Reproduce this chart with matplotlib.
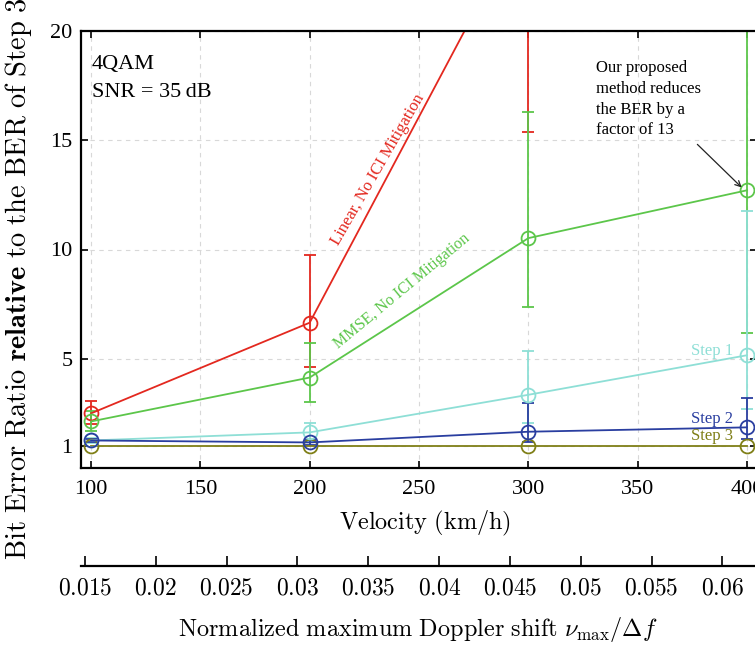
import numpy as np
import matplotlib
matplotlib.use('Agg')
import matplotlib.pyplot as plt

plt.rcParams['font.family'] = ['Liberation Serif', 'DejaVu Serif']
plt.rcParams['mathtext.fontset'] = 'cm'

# velocity grid (km/h)
velocity = [100, 200, 300, 400]

# BER relative to step 3: value, lower and upper end of the error bar
linear_val = [2.5, 6.65, 25.5, 45.0]
linear_lo = [2.0, 4.63, 15.4, 30.0]
linear_hi = [3.06, 9.73, 35.6, 60.0]

mmse_val = [2.13, 4.14, 10.52, 12.71]
mmse_lo = [1.70, 3.03, 7.37, 6.17]
mmse_hi = [2.6, 5.70, 16.28, 25.0]

step1_val = [1.26, 1.63, 3.35, 5.16]
step1_lo = [1.15, 1.2, 2.04, 2.72]
step1_hi = [1.37, 2.05, 5.36, 11.75]

step2_val = [1.26, 1.17, 1.66, 1.86]
step2_lo = [1.2, 1.07, 1.19, 1.32]
step2_hi = [1.32, 1.27, 2.97, 3.2]

step3_val = [1.0, 1.0, 1.0, 1.0]

y_ticks = [1, 5, 10, 15, 20]
doppler_ticks = [0.015, 0.02, 0.025, 0.03, 0.035, 0.04, 0.045, 0.05, 0.055, 0.06]
doppler_labels = ['0.015', '0.02', '0.025', '0.03', '0.035', '0.04', '0.045', '0.05', '0.055', '0.06']

# carrier 2.5 GHz, subcarrier spacing 15 kHz
fc = 2.5e9
df = 15e3
def v2nu(v):
    return np.asarray(v) / 3.6 * fc / 3e8 / df
def nu2v(nu):
    return np.asarray(nu) * df * 3e8 / fc * 3.6

c_red = '#e3281f'
c_green = '#5cc64a'
c_cyan = '#8edfd6'
c_blue = '#2a3ea0'
c_olive = '#7f7f17'

fig = plt.figure(figsize=(7.55, 6.45), dpi=100)
ax = fig.add_axes([81/755, 1-468/645, 676/755, 437/645])

def draw(val, lo, hi, color):
    val = np.array(val); lo = np.array(lo); hi = np.array(hi)
    ax.errorbar(velocity, val, yerr=[val-lo, hi-val], color=color, lw=1.3,
                marker='o', ms=10, mfc='none', mew=1.3, capsize=4.5, capthick=1.3)

draw(linear_val, linear_lo, linear_hi, c_red)
draw(mmse_val, mmse_lo, mmse_hi, c_green)
draw(step1_val, step1_lo, step1_hi, c_cyan)
draw(step2_val, step2_lo, step2_hi, c_blue)
ax.plot(velocity, step3_val, color=c_olive, lw=1.3, marker='o', ms=10, mfc='none', mew=1.3)

ax.set_xlim(95.42, 404.58)
ax.set_ylim(0, 20)
ax.set_xticks([100, 150, 200, 250, 300, 350, 400])
ax.set_yticks(y_ticks)
ax.tick_params(direction='in', length=5, width=1.2, labelsize=16, top=True, right=True, pad=6)
ax.tick_params(axis='x', pad=8.5)
ax.grid(True, ls=(0, (4, 4)), color='#d8d8d8', lw=0.8)
for s in ax.spines.values():
    s.set_linewidth(1.6)

# labels
ax.set_xlabel(r'$\mathrm{Velocity\ (km/h)}$', fontsize=17.5)
ax.xaxis.label.set_va('center')
ax.xaxis.set_label_coords(0.509, (468-523)/437)
ax.set_ylabel(r'$\mathrm{Bit\ Error\ Ratio\ }\mathbf{relative}\mathrm{\ to\ the\ BER\ of\ Step\ 3}$', fontsize=20.5)
ax.yaxis.label.set_va('center')
ax.yaxis.set_label_coords((19-81)/676, (468-279)/437)

sec = ax.secondary_xaxis((468-566)/437, functions=(v2nu, nu2v))
sec.set_xticks(doppler_ticks)
sec.set_xticklabels(['$%s$' % t for t in doppler_labels])
sec.tick_params(direction='in', length=7, width=1.2, labelsize=17, pad=9)
sec.spines['bottom'].set_linewidth(1.6)
fig.text(418/755, 1-630/645, r'$\mathrm{Normalized\ maximum\ Doppler\ shift}\ \nu_{\mathrm{max}}/\Delta f$',
         fontsize=17.5, ha='center', va='center')

# annotations
ax.text(100.5, 18.45, '4QAM', fontsize=16, va='center', ha='left')
ax.text(100.5, 17.2, 'SNR = 35\u2009dB', fontsize=16, va='center', ha='left')
ax.text(231.4, 13.66, 'Linear, No ICI Mitigation', color=c_red, fontsize=12,
        rotation=60, ha='center', va='center', rotation_mode='anchor')
ax.text(242.3, 8.09, 'MMSE, No ICI Mitigation', color=c_green, fontsize=11.5,
        rotation=39.6, ha='center', va='center', rotation_mode='anchor')
ax.text(393.8, 5.35, 'Step 1', color=c_cyan, fontsize=12, ha='right', va='center')
ax.text(393.8, 2.24, 'Step 2', color=c_blue, fontsize=12, ha='right', va='center')
ax.text(393.8, 1.46, 'Step 3', color=c_olive, fontsize=12, ha='right', va='center')
ax.text(331.1, 18.65, 'Our proposed\nmethod reduces\nthe BER by a\nfactor of 13', fontsize=12,
        ha='left', va='top', linespacing=1.38)
ax.annotate('', xy=(398.5, 12.75), xytext=(376.4, 14.9),
            arrowprops=dict(arrowstyle='->', color='#222222', lw=0.9))

fig.savefig('out.png', dpi=100)
